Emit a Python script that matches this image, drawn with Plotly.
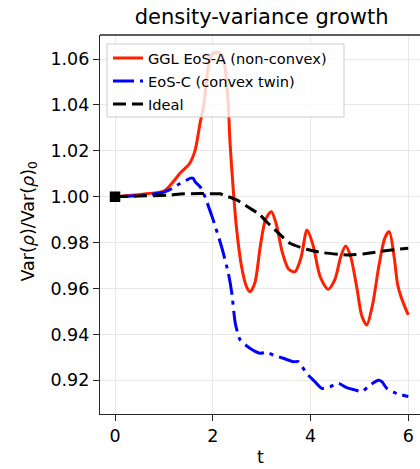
import plotly.graph_objects as go

# ---- data ----
t_red = [0.0, 0.35, 0.7, 1.0, 1.15, 1.33, 1.53, 1.64, 1.74, 1.81, 1.91, 1.98, 2.1, 2.2, 2.25,
         2.32, 2.35, 2.42, 2.49, 2.59, 2.69, 2.76, 2.86, 2.97, 3.08, 3.2, 3.3, 3.42, 3.55, 3.68,
         3.8, 3.93, 4.05, 4.2, 4.36, 4.5, 4.62, 4.72, 4.82, 4.95, 5.05, 5.15, 5.27, 5.4, 5.52,
         5.61, 5.71, 5.78, 5.85, 5.93, 6.0]
v_red = [1.0000, 1.0006, 1.0014, 1.0025, 1.0055, 1.0102, 1.0146, 1.0203, 1.0320, 1.0392, 1.0566,
         1.0620, 1.0630, 1.0610, 1.0566, 1.0390, 1.0247, 1.0029, 0.9855, 0.9695, 0.9608, 0.9586,
         0.9623, 0.9780, 0.9900, 0.9935, 0.9880, 0.9760, 0.9685, 0.9673, 0.9730, 0.9855, 0.9790,
         0.9650, 0.9597, 0.9640, 0.9740, 0.9785, 0.9740, 0.9600, 0.9480, 0.9441, 0.9530, 0.9700,
         0.9820, 0.9848, 0.9739, 0.9620, 0.9565, 0.9520, 0.9485]

t_blue = [0.0, 0.5, 1.0, 1.2, 1.33, 1.47, 1.53, 1.6, 1.64, 1.74, 1.84, 2.01, 2.18, 2.32, 2.39,
          2.46, 2.56, 2.76, 2.97, 3.1, 3.24, 3.44, 3.65, 3.75, 3.92, 4.09, 4.23, 4.4, 4.57, 4.74,
          4.91, 5.05, 5.22, 5.39, 5.46, 5.56, 5.76, 6.0]
v_blue = [1.0000, 1.0005, 1.0020, 1.0040, 1.0058, 1.0073, 1.0080, 1.0080, 1.0065, 1.0044, 1.0000,
          0.9898, 0.9782, 0.9666, 0.9580, 0.9450, 0.9376, 0.9340, 0.9318, 0.9322, 0.9310, 0.9296,
          0.9281, 0.9281, 0.9230, 0.9194, 0.9165, 0.9172, 0.9187, 0.9168, 0.9158, 0.9150, 0.9180,
          0.9200, 0.9194, 0.9165, 0.9143, 0.9129]

t_black = [0.0, 0.5, 1.12, 1.33, 1.74, 1.94, 2.15, 2.22, 2.49, 2.76, 2.97, 3.1, 3.38, 3.58, 3.92,
           4.26, 4.6, 4.81, 5.15, 5.49, 5.83, 6.0]
v_black = [1.0000, 1.0003, 1.0007, 1.0012, 1.0014, 1.0013, 1.0013, 1.0007, 0.9986, 0.9950, 0.9920,
           0.9891, 0.9835, 0.9797, 0.9771, 0.9756, 0.9749, 0.9746, 0.9753, 0.9763, 0.9772, 0.9775]

start_t = [0.0]
start_v = [1.0]

names = ["GGL EoS-A (non-convex)", "EoS-C (convex twin)", "Ideal"]
x_ticks = [0, 2, 4, 6]
y_ticks = [0.92, 0.94, 0.96, 0.98, 1.00, 1.02, 1.04, 1.06]

FONT = "DejaVu Sans"

fig = go.Figure()
fig.add_trace(go.Scatter(x=t_red, y=v_red, mode="lines", name=names[0], legendgroup="a",
                         line=dict(color="#ff2000", width=3, shape="spline", smoothing=0.8)))
fig.add_trace(go.Scatter(x=t_blue, y=v_blue, mode="lines", name=names[1], legendgroup="b",
                         line=dict(color="#0000ff", width=3, dash="21px,6px,4px,6px",
                                   shape="spline", smoothing=0.6)))
fig.add_trace(go.Scatter(x=t_black, y=v_black, mode="lines", name=names[2], legendgroup="c",
                         line=dict(color="#000000", width=3, dash="13px,6px",
                                   shape="spline", smoothing=0.6)))
fig.add_trace(go.Scatter(x=start_t, y=start_v, mode="markers", showlegend=False,
                         marker=dict(symbol="square", size=10.5, color="#000000")))

axis_common = dict(
    showgrid=True, gridcolor="#e8e8e8", gridwidth=1.2,
    showline=True, linecolor="#262626", linewidth=1.3,
    ticks="outside", ticklen=6, tickwidth=1.3, tickcolor="#262626",
    tickfont=dict(family=FONT, size=17.5, color="#000000"),
    zeroline=False, mirror=False,
)

# plot area in pixels: x 100..420, y 35..414
def px_x(p):
    return (p - 100) / 320

def px_y(p):
    return (414 - p) / 379

fig.update_layout(
    width=420, height=469,
    margin=dict(l=100, r=0, t=35, b=55),
    plot_bgcolor="white", paper_bgcolor="white",
    font=dict(family=FONT, color="#000000"),
    title=dict(text="density-variance growth", x=0.505, xref="paper", xanchor="center",
               y=1 - 17 / 469, yref="container", yanchor="middle",
               font=dict(family=FONT, size=21, color="#000000")),
    xaxis=dict(range=[-0.307, 6.24], tickvals=x_ticks, ticktext=[str(v) for v in x_ticks],
               **axis_common),
    yaxis=dict(range=[0.9053, 1.0705], tickvals=y_ticks, tickformat=".2f", **axis_common),
    legend=dict(x=px_x(108), y=px_y(42), xanchor="left", yanchor="top",
                bgcolor="rgba(0,0,0,0)", borderwidth=0, tracegroupgap=1,
                font=dict(family=FONT, size=14.6, color="#000000")),
    showlegend=True,
    shapes=[
        dict(type="line", xref="paper", yref="paper", x0=0, x1=1, y0=1, y1=1,
             line=dict(color="#262626", width=1.3)),
        dict(type="rect", xref="paper", yref="paper", layer="above",
             x0=px_x(107), x1=px_x(344), y0=px_y(117), y1=px_y(44),
             fillcolor="rgba(255,255,255,0.8)", line=dict(color="#cccccc", width=1)),
    ],
    annotations=[
        dict(text="Var(<i>ρ</i>)/Var(<i>ρ</i>)<sub>0</sub>", xref="paper", yref="paper",
             x=px_x(29), y=px_y(221.5), xanchor="center", yanchor="middle",
             textangle=-90, showarrow=False, font=dict(family=FONT, size=17.5, color="#000000")),
        dict(text="t", xref="paper", yref="paper", x=0.5, y=px_y(457),
             xanchor="center", yanchor="middle", showarrow=False,
             font=dict(family=FONT, size=17.5, color="#000000")),
    ],
)

fig.write_html("out.html")
